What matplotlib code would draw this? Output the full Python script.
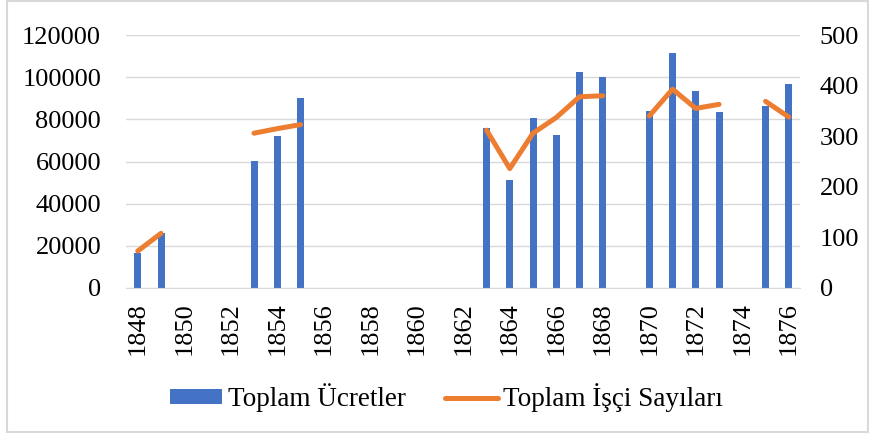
import numpy as np
import matplotlib
matplotlib.use("Agg")
import matplotlib.pyplot as plt
from matplotlib.patches import Rectangle

nan = np.nan
years = list(range(1848, 1877))
wages = [16500, 26000, nan, nan, nan, 60200, 72100, 90100, nan, nan,
         nan, nan, nan, nan, nan, 75700, 51200, 80600, 72400, 102600,
         100200, nan, 84100, 111500, 93400, 83500, nan, 86200, 96600]
workers = [73, 108, nan, nan, nan, 306, 315, 323, nan, nan,
           nan, nan, nan, nan, nan, 312, 236, 306, 337, 378,
           380, nan, 340, 393, 355, 363, nan, 369, 338]
xtick_labels = [str(y) for y in range(1848, 1877, 2)]
bar_label = "Toplam Ücretler"
line_label = "Toplam İşçi Sayıları"

plt.rcParams['font.family'] = ['Liberation Serif', 'DejaVu Serif']

fig = plt.figure(figsize=(8.7, 4.33), dpi=100)
ax = fig.add_axes([0.145, 0.335, 0.775, 0.584])
ax2 = ax.twinx()

x = np.array(years, dtype=float)
b = ax.bar(x, wages, width=0.3, color='#4472C4', label=bar_label, zorder=2)
l, = ax2.plot(x, workers, color='#ED7D31', lw=3.6, solid_capstyle='round',
              solid_joinstyle='round', label=line_label, zorder=3)

ax.set_xlim(1847.5, 1876.5)
ax.set_ylim(0, 120000)
ax2.set_ylim(0, 500)
ax.set_yticks(range(0, 120001, 20000))
ax2.set_yticks(range(0, 501, 100))
ax.set_xticks(range(1848, 1877, 2))
ax.set_xticklabels(xtick_labels, rotation=90)

ax.grid(axis='y', color='#D9D9D9', lw=1.0, zorder=0)
ax.set_axisbelow(True)
for a in (ax, ax2):
    for s in a.spines.values():
        s.set_visible(False)
    a.tick_params(length=0, labelsize=19, colors='black')
ax.spines['bottom'].set_visible(True)
ax.spines['bottom'].set_color('#D9D9D9')
ax.tick_params(axis='y', pad=18)
ax2.tick_params(axis='y', pad=14)
ax.tick_params(axis='x', pad=10)

fig.legend([b, l], [bar_label, line_label], loc='center',
           bbox_to_anchor=(0.513, 0.081), ncol=2, frameon=False,
           fontsize=19.5, handlelength=1.95, handleheight=0.5,
           handletextpad=0.2, columnspacing=1.45)

fig.patches.append(Rectangle((0.008, 0.002), 0.99, 0.996, transform=fig.transFigure,
                             fill=False, edgecolor='#D9D9D9', lw=1.5))

fig.savefig('out.png', dpi=100)
